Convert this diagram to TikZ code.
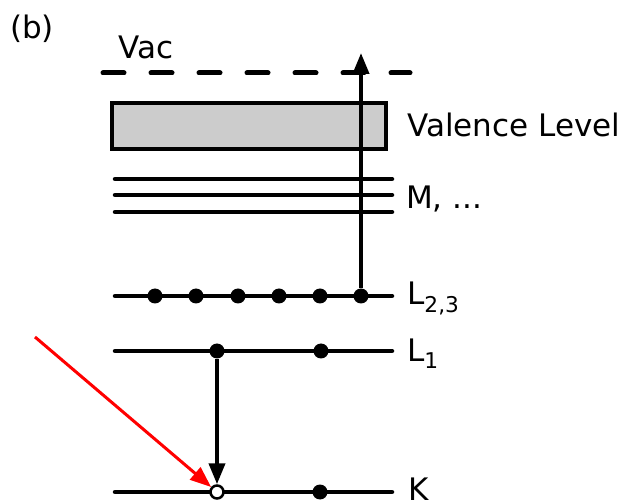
\documentclass[tikz,border=0pt]{standalone}
\usepackage{fontspec}
\setmainfont{DejaVu Sans}
\usetikzlibrary{arrows.meta}
\begin{document}
\begin{tikzpicture}[x=1pt,y=-1pt,
  level/.style={line width=4.5pt, line cap=round},
  lab/.style={anchor=mid west, inner sep=0pt, font=\fontsize{31}{37}\selectfont},
  band/.style={draw=black, fill=black!20, line width=4.5pt, inner sep=0pt},
  electron/.style={circle, fill=black, inner sep=0pt, minimum size=15pt},
  hole/.style={circle, draw=black, fill=white, line width=2.5pt, inner sep=0pt, minimum size=13pt},
  jump/.style={line width=4pt, -{Triangle[length=21pt,width=16pt]}},
  photon/.style={draw=red, line width=3pt, -{Triangle[length=21pt,width=16pt]}},
]
\useasboundingbox (0,0) rectangle (632,502);

% panel tag and vacuum level
\node[lab] (tag) at (10,36) {(b)};
\node[lab] (vac) at (118,56) {Vac};
\draw[line width=5pt, line cap=round, dash pattern=on 21pt off 27pt] (103,73) -- (410,73);

% valence band
\node[band, minimum width=274pt, minimum height=46pt] (val) at (249,126) {};
\node[lab] (vallab) at (407,134) {Valence Level};

% M shells
\draw[level] (115,179) -- (392,179);
\draw[level] (115,195) -- (392,195);
\draw[level] (115,212) -- (392,212);
\node[lab] (mlab) at (406,206) {M, ...};

% L2,3 shell with six electrons
\draw[level] (115,296) -- (392,296);
\foreach \i/\x in {1/155,2/196,3/238,4/279,5/320,6/361}
  \node[electron] (l\i) at (\x,296) {};
\node[lab] (l23lab) at (407,302) {L\textsubscript{2,3}};

% L1 shell
\draw[level] (115,351) -- (392,351);
\node[electron] (la) at (217,351) {};
\node[electron] (lb) at (321,351) {};
\node[lab] (l1lab) at (407,359) {L\textsubscript{1}};

% K shell with core hole
\draw[level] (115,492) -- (392,492);
\node[hole] (kh) at (217,492) {};
\node[electron] (ke) at (320,492) {};
\node[lab] (klab) at (408,498) {K};

% transitions
\coordinate (out) at (361,53);
\draw[jump] (l6) -- (out);
\draw[jump] (la) -- (kh);
\coordinate (xray) at (35,337);
\draw[photon] (xray) -- (kh);
\end{tikzpicture}
\end{document}
